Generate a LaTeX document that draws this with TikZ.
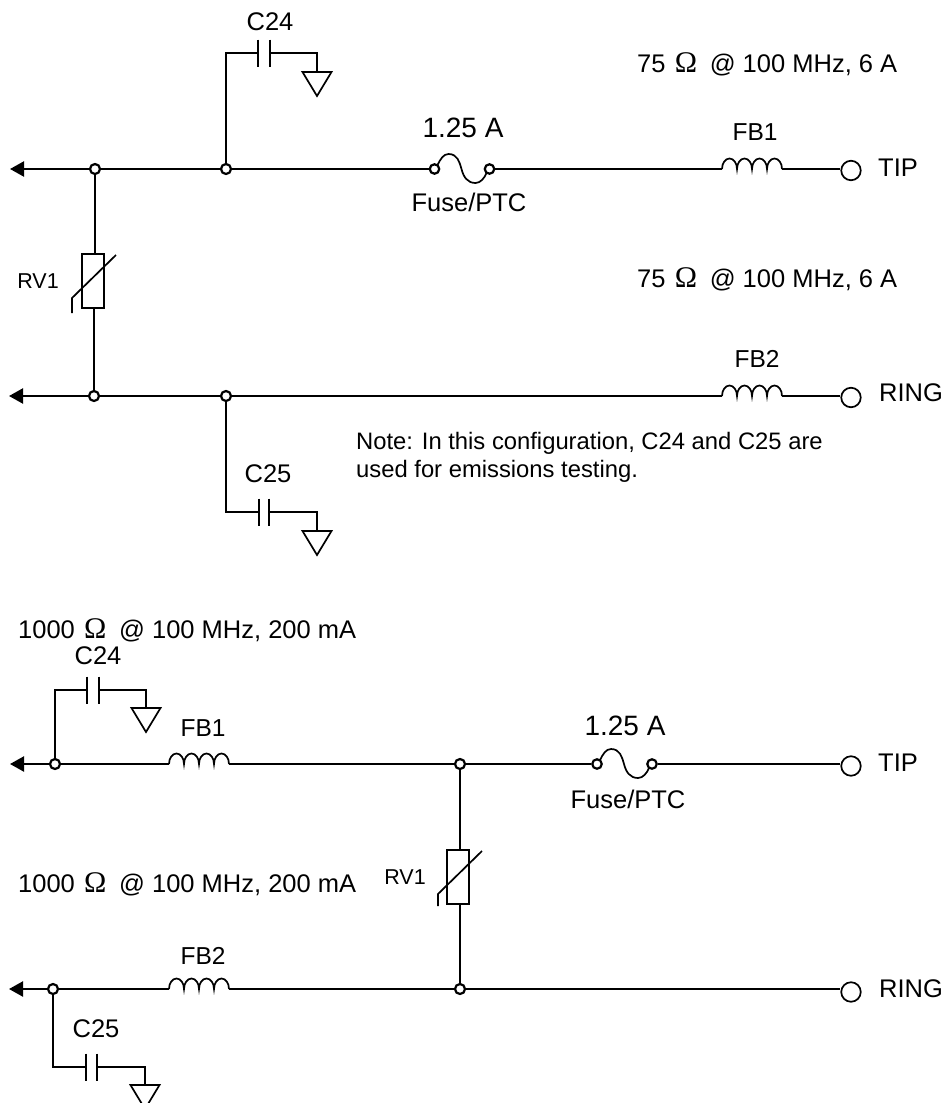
\documentclass[tikz,border=0pt]{standalone}
\usepackage{fontspec}
\setmainfont{Liberation Sans}
\newfontfamily\omfont{Liberation Serif}
\usetikzlibrary{arrows.meta,calc}
\newcommand{\Om}{\hspace{.36em}{\omfont\fontsize{30}{30}\selectfont Ω}\hspace{.5em}}
\tikzset{
  wire/.style={line width=2.2pt,line join=miter},
  thin wire/.style={line width=1.7pt},
  out arrow/.style={wire,-{Triangle[length=14pt,width=15pt]}},
  junction/.style={circle,draw,fill=white,line width=2.2pt,inner sep=0pt,minimum size=10pt},
  terminal/.style={circle,draw,fill=white,line width=1.7pt,inner sep=0pt,minimum size=19.5pt},
  varistor/.style={rectangle,draw,line width=2.2pt,inner sep=0pt,minimum width=22pt,minimum height=54pt},
  lab/.style={font=\fontsize{25.5}{30}\selectfont,inner sep=0pt,text height=18pt,text depth=0pt},
  rate lab/.style={lab,font=\fontsize{28}{32}\selectfont},
  fb lab/.style={lab,font=\fontsize{24.5}{30}\selectfont},
  small lab/.style={lab,font=\fontsize{21.5}{26}\selectfont,text height=15.5pt},
  val lab/.style={lab,anchor=west},
  note lab/.style={lab,font=\fontsize{23.8}{28}\selectfont,anchor=west,text height=17pt}
}
% capacitor: name, centre x, y, half gap
\newcommand{\capac}[4]{%
  \coordinate (#1-l) at (#2-#4,#3);\coordinate (#1-r) at (#2+#4,#3);
  \draw[line width=2.6pt] (#2-#4,#3-13.5) -- (#2-#4,#3+13.5) (#2+#4,#3-13.5) -- (#2+#4,#3+13.5);}
% ground: name, centre x, top y
\newcommand{\gnd}[3]{%
  \coordinate (#1) at (#2,#3);
  \draw[thin wire,line join=miter] (#2-14.5,#3) -- (#2+14.5,#3) -- (#2,#3+24) -- cycle;}
% inductor: name, left x, y
\newcommand{\indu}[3]{%
  \coordinate (#1-l) at (#2,#3);\coordinate (#1-r) at (#2+60,#3);
  \draw[thin wire] (#2,#3) arc[start angle=180,end angle=360,x radius=7.5,y radius=10.5]
   arc[start angle=180,end angle=360,x radius=7.5,y radius=10.5]
   arc[start angle=180,end angle=360,x radius=7.5,y radius=10.5]
   arc[start angle=180,end angle=360,x radius=7.5,y radius=10.5];}
% fuse: name, left x, y
\newcommand{\fuse}[3]{%
  \node[junction,minimum size=9.5pt] (#1-l) at (#2,#3) {};
  \node[junction,minimum size=9.5pt] (#1-r) at (#2+55,#3) {};
  \draw[thin wire] (#2+3,#3-4) .. controls (#2+6,#3-10) and (#2+9,#3-15) .. (#2+14,#3-15)
    .. controls (#2+23,#3-15) and (#2+25,#3-7) .. (#2+27,#3)
    .. controls (#2+29,#3+8) and (#2+33,#3+14) .. (#2+41,#3+14)
    .. controls (#2+46,#3+14) and (#2+50,#3+9) .. (#2+52,#3+4);}
% varistor slash: x, y, tail
\newcommand{\slashv}[3]{%
  \draw[thin wire,line join=miter] (#1,#2) -- (#1-44,#2+43) -- (#1-44,#2+43+#3);}
\begin{document}
\begin{tikzpicture}[x=1pt,y=-1pt]
\useasboundingbox (0,0) rectangle (945,1103);
% ---- top circuit
\node[lab] (c24a) at (270,21) {C24};
\node[val lab] (t1) at (637,63) {75\Om@ 100 MHz, 6 A};
\node[rate lab] (fa) at (463,128) {1.25 A};
\node[fb lab] (fb1a) at (755,131) {FB1};
\node[lab] (fpa) at (469,202) {Fuse/PTC};
\node[small lab] (rv1a) at (38,281) {RV1};
\node[val lab] (t2) at (637,278) {75\Om@ 100 MHz, 6 A};
\node[fb lab] (fb2a) at (757,358) {FB2};
\node[lab,anchor=west] (tip1) at (878,167) {TIP};
\node[lab,anchor=west] (ring1) at (879,392) {RING};
\node[note lab] (n1) at (356,441) {Note: In this configuration, C24 and C25 are};
\node[note lab] (n2) at (356,469) {used for emissions testing.};
\node[lab] (c25a) at (268,473) {C25};
\coordinate (a1) at (10,169);
\coordinate (a2) at (9,396);
\coordinate (c24bend) at (226,53);
\coordinate (c25bend) at (226,512);
\coordinate (c24g) at (317,53);
\coordinate (c25g) at (317,512);
\capac{c24}{264}{53}{6}
\capac{c25}{264}{512}{5}
\gnd{g1}{317}{72}
\gnd{g2}{317}{531}
\indu{fb1}{722}{169}
\indu{fb2}{722}{396}
\fuse{f1}{434.5}{169}
\slashv{116}{255}{15}
\node[varistor] (v1) at (93,281) {};
\node[junction] (j1) at (95,169) {};
\node[junction] (j2) at (226,169) {};
\node[junction] (j3) at (94,396) {};
\node[junction] (j4) at (226,396) {};
\node[terminal] (tp1) at (851,170.5) {};
\node[terminal] (rg1) at (851,397.5) {};
\draw[out arrow] (j1) -- (a1);
\draw[out arrow] (j3) -- (a2);
\draw[wire] (j1) -- (j2);
\draw[wire] (j2) -- (f1-l);
\draw[wire] (f1-r) -- (fb1-l);
\draw[wire] (fb1-r) -- (fb1-r -| tp1.west);
\draw[wire] (j3) -- (j4);
\draw[wire] (j4) -- (fb2-l);
\draw[wire] (fb2-r) -- (fb2-r -| rg1.west);
\draw[wire] (j1) -- (j1 |- v1.north);
\draw[wire] (j3 |- v1.south) -- (j3);
\draw[wire] (j2) -- (c24bend) -- (c24-l);
\draw[wire] (c24-r) -- (c24g) -- (g1);
\draw[wire] (j4) -- (c25bend) -- (c25-l);
\draw[wire] (c25-r) -- (c25g) -- (g2);
% ---- bottom circuit
\node[val lab] (t3) at (18,629) {1000\Om@ 100 MHz, 200 mA};
\node[lab] (c24c) at (98,655) {C24};
\node[rate lab] (fa2) at (625,726) {1.25 A};
\node[fb lab] (fb1c) at (203,727) {FB1};
\node[lab] (fpc) at (628,799) {Fuse/PTC};
\node[small lab] (rv1c) at (405,877) {RV1};
\node[val lab] (t4) at (18,883) {1000\Om@ 100 MHz, 200 mA};
\node[fb lab] (fb2c) at (203,955) {FB2};
\node[lab] (c25c) at (96,1028) {C25};
\node[lab,anchor=west] (tip2) at (878,762) {TIP};
\node[lab,anchor=west] (ring2) at (879,988) {RING};
\coordinate (a3) at (10,764);
\coordinate (a4) at (9,989);
\coordinate (c26bend) at (55,690);
\coordinate (c26g) at (146,690);
\coordinate (c27bend) at (53,1067);
\coordinate (c27g) at (145,1067);
\capac{c26}{93}{690}{6}
\capac{c27}{91.5}{1067}{5.5}
\gnd{g3}{146}{708}
\gnd{g4}{145}{1085}
\indu{fb3}{169}{764}
\indu{fb4}{169}{989}
\fuse{f2}{597}{764}
\slashv{482}{851}{12}
\node[varistor] (v2) at (458,877) {};
\node[junction] (j5) at (55,764) {};
\node[junction] (j6) at (460,764) {};
\node[junction] (j7) at (53,989) {};
\node[junction] (j8) at (460,989) {};
\node[terminal] (tp2) at (851,766) {};
\node[terminal] (rg2) at (851,992) {};
\draw[out arrow] (j5) -- (a3);
\draw[out arrow] (j7) -- (a4);
\draw[wire] (j5) -- (fb3-l);
\draw[wire] (fb3-r) -- (j6);
\draw[wire] (j6) -- (f2-l);
\draw[wire] (f2-r) -- (f2-r -| tp2.west);
\draw[wire] (j7) -- (fb4-l);
\draw[wire] (fb4-r) -- (j8);
\draw[wire] (j8) -- (j8 -| rg2.west);
\draw[wire] (j6) -- (j6 |- v2.north);
\draw[wire] (j8 |- v2.south) -- (j8);
\draw[wire] (j5) -- (c26bend) -- (c26-l);
\draw[wire] (c26-r) -- (c26g) -- (g3);
\draw[wire] (j7) -- (c27bend) -- (c27-l);
\draw[wire] (c27-r) -- (c27g) -- (g4);
\end{tikzpicture}
\end{document}
